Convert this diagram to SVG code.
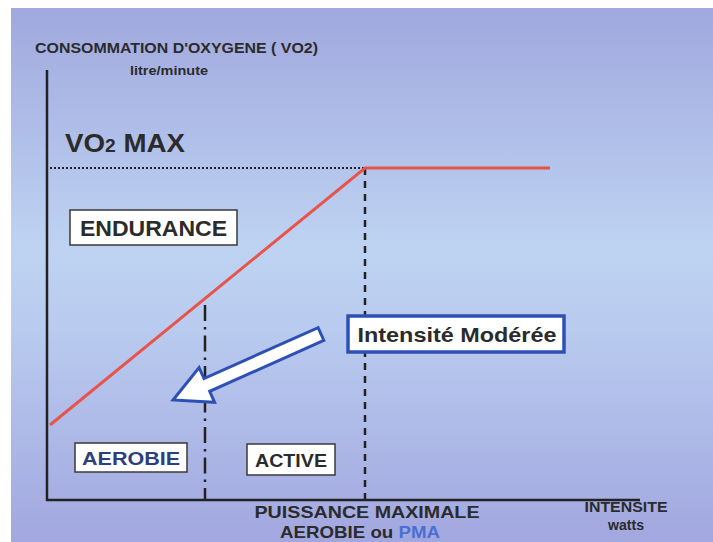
<svg xmlns="http://www.w3.org/2000/svg" width="713" height="542" viewBox="0 0 713 542">
<defs>
<linearGradient id="bg" x1="0" y1="0" x2="0" y2="1">
<stop offset="0" stop-color="#a0a8de"/>
<stop offset="0.45" stop-color="#bed3f2"/>
<stop offset="0.6" stop-color="#b9cbef"/>
<stop offset="1" stop-color="#a2a7df"/>
</linearGradient>
<style>
text{font-family:"Liberation Sans",Arial,sans-serif;font-weight:bold;fill:#2b2b2b}
.box{fill:#ffffff;stroke:#3a3a3a;stroke-width:1.5}
.axis{stroke:#222;stroke-width:2.5;fill:none}
.red{stroke:#e8544c;stroke-width:3;fill:none}
</style>
</defs>
<rect x="0" y="0" width="713" height="542" fill="#ffffff"/>
<rect x="11" y="8" width="702" height="534" fill="url(#bg)"/>
<g id="labels">
<text x="35" y="53" font-size="14" textLength="283" lengthAdjust="spacingAndGlyphs">CONSOMMATION D'OXYGENE ( VO2)</text>
<text x="130" y="75" font-size="13.5" textLength="78" lengthAdjust="spacingAndGlyphs">litre/minute</text>
<text x="65" y="152" font-size="26" textLength="120" lengthAdjust="spacingAndGlyphs">VO<tspan font-size="18">2</tspan> MAX</text>
<text x="367" y="518" font-size="17" text-anchor="middle" textLength="225" lengthAdjust="spacingAndGlyphs">PUISSANCE MAXIMALE</text>
<text x="360" y="538" font-size="17" text-anchor="middle" textLength="160" lengthAdjust="spacingAndGlyphs">AEROBIE ou <tspan fill="#4a6fd4">PMA</tspan></text>
<text x="626" y="512" font-size="14" text-anchor="middle" textLength="83" lengthAdjust="spacingAndGlyphs">INTENSITE</text>
<text x="626" y="530" font-size="14" text-anchor="middle" textLength="36" lengthAdjust="spacingAndGlyphs">watts</text>
</g>
<g id="connectors">
<line class="axis" x1="47" y1="70" x2="47" y2="501"/>
<line class="axis" x1="46" y1="500" x2="640" y2="500"/>
<line x1="50" y1="168" x2="365" y2="168" stroke="#222" stroke-width="2" stroke-dasharray="2,2"/>
<line x1="365" y1="168" x2="365" y2="500" stroke="#222" stroke-width="2.5" stroke-dasharray="7,6"/>
<line x1="205" y1="305" x2="205" y2="500" stroke="#222" stroke-width="2.5" stroke-dasharray="16,6,2.5,6"/>
<polyline class="red" points="50,425 365,168 550,168"/>
<polygon points="0,-7 125,-7 125,-19 162,0 125,19 125,7 0,7" transform="translate(321,334) rotate(155.96)" fill="#ffffff" stroke="#2d50b4" stroke-width="3" stroke-linejoin="miter"/>
</g>
<g id="endurance">
<rect class="box" x="70" y="210" width="167" height="35"/>
<text x="153.5" y="236" font-size="22" text-anchor="middle" textLength="147" lengthAdjust="spacingAndGlyphs">ENDURANCE</text>
</g>
<g id="intensite">
<rect x="348" y="316" width="216" height="36" fill="#ffffff" stroke="#2d50b4" stroke-width="3.5"/>
<text x="457" y="342" font-size="20.5" text-anchor="middle" textLength="199" lengthAdjust="spacingAndGlyphs">Intensité Modérée</text>
</g>
<g id="aerobie">
<rect class="box" x="75" y="443" width="112" height="29"/>
<text x="131" y="465" font-size="18" text-anchor="middle" textLength="98" lengthAdjust="spacingAndGlyphs" style="fill:#2d3f7e">AEROBIE</text>
</g>
<g id="active">
<rect class="box" x="247" y="444" width="88" height="31"/>
<text x="291" y="467" font-size="18" text-anchor="middle" textLength="72" lengthAdjust="spacingAndGlyphs">ACTIVE</text>
</g>
</svg>
